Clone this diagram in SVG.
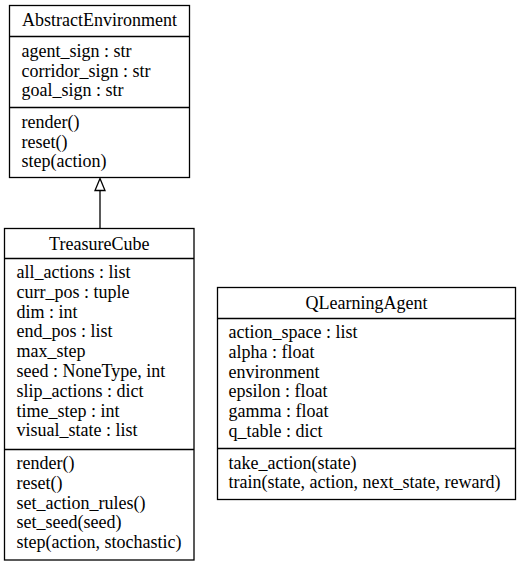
<svg xmlns="http://www.w3.org/2000/svg" width="520" height="565" viewBox="0 0 520 565" font-family="Liberation Serif">
<style>
.box{fill:#fff;stroke:#000;stroke-width:1.3}
.sep{stroke:#000;stroke-width:1.3}
text{font-family:"Liberation Serif","Times New Roman",Times,serif;font-size:18px;fill:#000}
.t{text-anchor:middle}
.edge{stroke:#000;stroke-width:1.3;fill:none}
.head{fill:#fff;stroke:#000;stroke-width:1.3}
</style>
<rect width="520" height="565" fill="#fff"/>
<g id="connectors">
<line class="edge" x1="100" y1="228" x2="100" y2="190.5"/>
<polygon class="head" points="100,178.5 95,190.5 105,190.5"/>
</g>
<g id="AbstractEnvironment">
<rect class="box" x="9.5" y="5.5" width="180" height="172"/>
<line class="sep" x1="9.5" y1="36.5" x2="189.5" y2="36.5"/>
<line class="sep" x1="9.5" y1="107.5" x2="189.5" y2="107.5"/>
<text class="t" x="99.5" y="26">AbstractEnvironment</text>
<text x="21.5" y="57">agent_sign : str</text>
<text x="21.5" y="76.5">corridor_sign : str</text>
<text x="21.5" y="96">goal_sign : str</text>
<text x="21.5" y="128">render()</text>
<text x="21.5" y="147.5">reset()</text>
<text x="21.5" y="167">step(action)</text>
</g>
<g id="TreasureCube">
<rect class="box" x="4.5" y="228.5" width="189.5" height="331.5"/>
<line class="sep" x1="4.5" y1="258.5" x2="194" y2="258.5"/>
<line class="sep" x1="4.5" y1="449.5" x2="194" y2="449.5"/>
<text class="t" x="99.25" y="250">TreasureCube</text>
<text x="16.5" y="278">all_actions : list</text>
<text x="16.5" y="297.8">curr_pos : tuple</text>
<text x="16.5" y="317.6">dim : int</text>
<text x="16.5" y="337.4">end_pos : list</text>
<text x="16.5" y="357.2">max_step</text>
<text x="16.5" y="377">seed : NoneType, int</text>
<text x="16.5" y="396.8">slip_actions : dict</text>
<text x="16.5" y="416.6">time_step : int</text>
<text x="16.5" y="436.4">visual_state : list</text>
<text x="16.5" y="469">render()</text>
<text x="16.5" y="488.8">reset()</text>
<text x="16.5" y="508.6">set_action_rules()</text>
<text x="16.5" y="528.4">set_seed(seed)</text>
<text x="16.5" y="548.2">step(action, stochastic)</text>
</g>
<g id="QLearningAgent">
<rect class="box" x="217.5" y="287.5" width="298" height="212"/>
<line class="sep" x1="217.5" y1="318.5" x2="515.5" y2="318.5"/>
<line class="sep" x1="217.5" y1="448.5" x2="515.5" y2="448.5"/>
<text class="t" x="366.5" y="309">QLearningAgent</text>
<text x="228.5" y="338">action_space : list</text>
<text x="228.5" y="357.8">alpha : float</text>
<text x="228.5" y="377.6">environment</text>
<text x="228.5" y="397.4">epsilon : float</text>
<text x="228.5" y="417.2">gamma : float</text>
<text x="228.5" y="437">q_table : dict</text>
<text x="228.5" y="468.5">take_action(state)</text>
<text x="228.5" y="488.3">train(state, action, next_state, reward)</text>
</g>
</svg>
